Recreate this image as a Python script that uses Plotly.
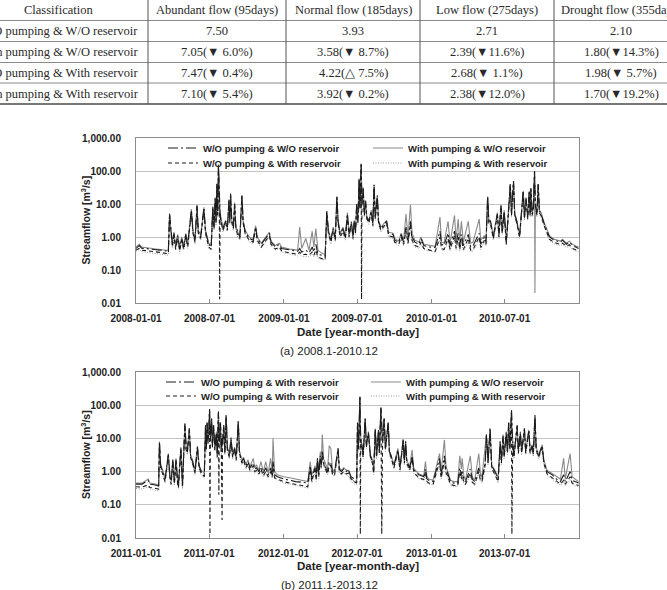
import pandas as pd
import plotly.graph_objects as go

W, H = 667, 590


def px(x):
    return x / W


def py(y):
    return 1 - y / H


# ---------------- table data ----------------
table_header = ["Classification", "Abundant flow (95days)", "Normal flow (185days)",
                "Low flow (275days)", "Drought flow (355days)"]
table_rows = ["W/O pumping & W/O reservoir", "With pumping & W/O reservoir",
              "W/O pumping & With reservoir", "With pumping & With reservoir"]
abundant = ["7.50", "7.05(▼ 6.0%)", "7.47(▼ 0.4%)", "7.10(▼ 5.4%)"]
normal = ["3.93", "3.58(▼ 8.7%)", "4.22(△ 7.5%)", "3.92(▼ 0.2%)"]
low = ["2.71", "2.39(▼11.6%)", "2.68(▼ 1.1%)", "2.38(▼12.0%)"]
drought = ["2.10", "1.80(▼14.3%)", "1.98(▼ 5.7%)", "1.70(▼19.2%)"]

# ---------------- chart (a) 2008.1-2010.12 : days since 2008-01-01 ----------------
days_a = [0, 8, 14, 30, 45, 60, 80, 83, 86, 90,
          94, 98, 103, 108, 113, 118, 123, 128, 137, 141,
          146, 151, 154, 160, 168, 172, 180, 186, 190, 193,
          196, 198, 200, 202, 204, 206, 207, 208, 210, 215,
          222, 226, 230, 232, 234, 237, 241, 244, 247, 252,
          257, 262, 265, 270, 280, 290, 296, 300, 310, 330,
          334, 345, 355, 360, 380, 400, 405, 410, 420, 428,
          436, 440, 445, 450, 460, 468, 472, 476, 482, 488,
          493, 497, 500, 505, 512, 518, 523, 527, 533, 537,
          540, 543, 546, 549, 552, 554, 557, 558, 559, 562,
          565, 568, 571, 576, 582, 586, 589, 592, 597, 600,
          606, 620, 625, 636, 640, 650, 656, 662, 668, 673,
          679, 683, 690, 700, 705, 712, 725, 740, 752, 756,
          762, 772, 777, 788, 792, 797, 801, 805, 810, 822,
          828, 834, 849, 853, 862, 866, 870, 873, 877, 884,
          894, 898, 903, 906, 911, 916, 920, 926, 929, 934,
          937, 942, 949, 953, 958, 961, 965, 969, 973, 975,
          977, 980, 983, 986, 987, 988, 992, 995, 998, 1002,
          1010, 1018, 1023, 1035, 1050, 1055, 1065, 1072, 1080, 1090,
          1095]
# W/O pumping & W/O reservoir
a_wo_wo = [.45, .55, .46, .43, .42, .40, .37, 5.0, 1.5, .6,
           1.3, .5, 1.1, .45, .9, .5, 1.2, .6, 6.5, 1.5,
           .8, 9, 1.5, 1.0, 7.5, 1.5, .6, .5, 8, 2,
           15, 3, 40, 5, 150, 20, 8, 5, 3.5, 1.8,
           3, 1.8, 13, 3, 20, 3, 2, 10, 2, 1.3,
           1.0, 18, 3, 1.5, .9, .8, 2.0, .9, .6, 1.3,
           .7, .5, .6, .45, .4, .37, .45, .35, .4, .33,
           .5, .35, .6, .3, .28, .27, 6, 1.5, .8, 1.8,
           .9, 17, 3, 1.2, 1.8, 1.0, 5, 1.2, 2.8, 1.0,
           3, 1.5, 10, 3, 60, 8, 170, 20, 10, 30,
           5, 12, 4, 3, 6, 2.5, 38, 4, 18, 3,
           1.8, 3, 1.3, 1.2, .8, .7, 1.2, .7, 2, .8,
           3, 1.0, .7, .6, .9, .55, .5, .48, 1.5, .6,
           .55, 1.3, .55, 1.5, .6, 1.3, .55, 1.2, .55, 1.2,
           .5, .55, 1.3, .6, 1.0, .7, 17, 3, 3, 1.0,
           5, 1.2, 9, 1.5, 6, .7, 3, 40, 5, 50,
           5, 3, 1.1, 6, 25, 4, 15, 4, 25, 5,
           30, 5, 8, 100, 30, 10, 5, 40, 6, 5,
           2.5, 1.5, 1.0, .8, .7, .8, .6, .7, .55, .48,
           .45]
# W/O pumping & With reservoir
a_wo_with = [.40, .45, .40, .37, .36, .34, .31, 4.5, 1.3, .5,
             1.1, .42, .9, .38, .8, .42, 1.0, .5, 6.0, 1.3,
             .7, 8.5, 1.3, .9, 7, 1.3, .5, .42, 7, 1.8,
             14, 2.5, 35, 4.5, 140, 18, .013, 5, 3, 1.6,
             2.7, 1.6, 12, 2.7, 18, 2.7, 1.8, 9, 1.8, 1.1,
             .9, 17, 2.7, 1.3, .8, .7, 1.8, .8, .5, 1.1,
             .6, .43, .5, .38, .33, .3, .35, .29, .3, .28,
             .35, .28, .4, .25, .22, .21, 5.5, 1.3, .7, 1.6,
             .8, 16, 2.7, 1.0, 1.5, .9, 4.5, 1.0, 2.5, .9,
             2.7, 1.3, 9, 2.7, 55, 7, 160, .013, 10, 28,
             4.5, 11, 3.6, 2.7, 5.5, 2.2, 35, 3.6, 17, 2.7,
             1.6, 2.7, 1.1, 1.0, .7, .6, 1.0, .6, 1.6, .65,
             2.5, .8, .55, .5, .7, .45, .4, .36, 1.0, .45,
             .42, .9, .42, 1.1, .45, 1.0, .42, .9, .42, .9,
             .4, .42, 1.0, .48, .8, .6, 16, 2.7, 2.6, .9,
             4.5, 1.0, 8.5, 1.3, 5.5, .6, 2.7, 38, 4.5, 45,
             4.5, 2.7, 1.0, 5.5, 23, 3.6, 14, 3.6, 23, 4.5,
             28, 4.5, 7, 95, 28, 9, 4.5, 38, 5.5, 4.5,
             2.2, 1.3, .85, .68, .6, .65, .52, .58, .45, .4,
             .38]
# With pumping & W/O reservoir
a_with_wo = [.50, .60, .50, .46, .44, .42, .39, 5.2, 1.6, .7,
             1.4, .55, 1.2, .5, 1.0, .55, 1.3, .65, 7.0, 1.6,
             .9, 9.5, 1.6, 1.1, 8, 1.6, .65, .55, 8.5, 2.2,
             16, 3.2, 42, 5.5, 160, 22, 8.5, 5.5, 3.8, 2,
             3.2, 2, 14, 3.2, 21, 3.2, 2.2, 11, 2.2, 1.4,
             1.1, 18, 3.2, 1.6, 1.0, .9, 2.2, 1.0, .65, 1.4,
             .75, .55, .65, .5, .43, .4, 2.0, .45, .9, .4,
             1.5, .5, 1.8, .4, .32, .3, 6, 1.6, .9, 2,
             1.0, 17, 3.2, 1.3, 2.0, 1.1, 5.5, 1.3, 3, 1.1,
             3.2, 1.6, 10, 3.2, 60, 8.5, 170, 20, 11, 32,
             5.5, 13, 4.2, 3.2, 6.5, 2.7, 38, 4.2, 18, 3.2,
             2, 3.2, 1.4, 1.3, .9, .75, 1.3, .8, 5, 1.0,
             9.5, 1.3, .8, .7, 1.0, .6, .55, .52, 4, .7,
             .65, 3, .65, 4.5, .8, 3.5, .7, 3, .7, 3,
             .65, .7, 3.5, .8, 1.1, .8, 17, 3.2, 3.2, 1.1,
             5.5, 1.3, 9.5, 1.6, 6.5, .75, 3.2, 40, 5.5, 50,
             5.5, 3.2, 1.2, 6.5, 25, 4.2, 16, 4.2, 25, 5.5,
             30, 5.5, 8.5, 100, .02, 10, 5.5, 40, 6.5, 5.5,
             2.7, 1.6, 1.1, .85, .75, .85, .65, .75, .6, .52,
             .5]
# With pumping & With reservoir
a_with_with = [.37, .42, .36, .34, .32, .30, .28, 4.2, 1.2, .45,
               1.0, .4, .85, .35, .75, .4, .9, .45, 5.5, 1.2,
               .6, 8, 1.2, .8, 6.5, 1.2, .45, .4, 6.5, 1.6,
               13, 2.2, 30, 4, 120, 16, 7, 4.5, 2.8, 1.4,
               2.4, 1.5, 11, 2.5, 16, 2.5, 1.6, 8.5, 1.6, 1.0,
               .8, 15, 2.4, 1.2, .7, .65, 1.6, .7, .45, 1.0,
               .55, .4, .45, .35, .3, .27, .3, .26, .26, .25,
               .3, .25, .32, .23, .21, .2, 5, 1.2, .6, 1.4,
               .7, 14, 2.4, .9, 1.3, .8, 4, .9, 2.2, .8,
               2.4, 1.2, 8, 2.4, 50, 6.5, 150, 18, 9, 25,
               4, 10, 3.2, 2.4, 5, 2, 32, 3.2, 15, 2.4,
               1.4, 2.4, 1.0, .9, .65, .55, .9, .55, 1.4, .6,
               2, .7, .5, .45, .6, .42, .38, .35, .8, .4,
               .38, .7, .38, .9, .4, .8, .38, .7, .38, .7,
               .36, .38, .8, .42, .7, .55, 14, 2.4, 2.3, .8,
               4, .9, 8, 1.2, 5, .55, 2.4, 35, 4, 40,
               4, 2.4, .9, 5, 20, 3.2, 12, 3.2, 20, 4,
               25, 4, 6.5, 85, 25, 8, 4, 35, 5, 4,
               2, 1.2, .8, .62, .55, .6, .48, .52, .42, .37,
               .35]

# ---------------- chart (b) 2011.1-2013.12 : days since 2011-01-01 ----------------
days_b = [0, 15, 30, 34, 45, 56, 58, 61, 66, 72,
          80, 84, 87, 91, 95, 99, 103, 105, 111, 115,
          121, 124, 127, 132, 135, 140, 146, 152, 156, 161,
          169, 172, 174, 176, 178, 180, 182, 183, 184, 187,
          189, 192, 195, 199, 201, 204, 205, 206, 209, 211,
          213, 214, 217, 220, 223, 226, 231, 235, 239, 244,
          248, 253, 256, 262, 266, 272, 277, 282, 290, 294,
          298, 304, 309, 315, 321, 327, 333, 337, 339, 343,
          350, 365, 380, 395, 410, 425, 431, 435, 437, 443,
          446, 449, 452, 456, 458, 461, 464, 467, 474, 478,
          482, 486, 491, 500, 503, 508, 514, 520, 525, 532,
          540, 546, 548, 550, 552, 554, 555, 556, 559, 562,
          567, 570, 575, 580, 585, 588, 592, 595, 600, 602,
          606, 608, 610, 614, 617, 624, 627, 631, 638, 648,
          653, 661, 664, 667, 670, 677, 683, 687, 691, 700,
          712, 716, 720, 724, 735, 751, 755, 763, 767, 770,
          778, 786, 796, 801, 805, 807, 811, 815, 827, 832,
          838, 848, 852, 856, 864, 867, 871, 876, 880, 888,
          896, 901, 904, 908, 911, 916, 919, 922, 925, 929,
          930, 932, 935, 943, 946, 951, 954, 957, 961, 964,
          968, 972, 975, 980, 983, 987, 990, 996, 1005, 1009,
          1017, 1030, 1040, 1050, 1058, 1062, 1074, 1079, 1086, 1095]
b_s1 = [.42, .42, .55, .42, .4, .37, 8, 1.5, 1.0, .6,
        3.3, .7, .5, 2.2, .5, 2.3, .5, .4, 5, .4,
        28, 5, 4, 20, 3, 2, 1.0, 5.5, 1.5, 1.0,
        .8, 25, 5, 30, 8, 15, 75, 20, 10, 40,
        6, 25, 5, 15, 3, 65, 10, 8, 30, 4,
        10, 6, 25, 4, 50, 5, 3, 10, 3, 5,
        2.5, 33, 4, 2, 2.5, 1.5, 2, 1.3, 1.8, 1.2,
        1.3, 1.0, 1.4, .9, 1.3, .8, 1.3, .8, 2, .8,
        .7, .6, .55, .5, .48, .45, 1.5, .6, .8, 1.3,
        .7, 2.5, .8, 3, 1.5, 4, 2, 1.5, 1.0, 2,
        1.8, 1.0, .9, 5, 1.2, 1.0, 1.2, 1.0, 1.2, .7,
        .6, .5, 30, 5, 20, 180, 25, 10, 6, 3,
        40, 6, 15, 3, 2, 1.0, 20, 3, 18, 4,
        85, 20, 8, 40, 5, 30, 4, 3, 1.5, 4.5,
        1.3, 9, 2, 8, 2, 1.3, 3, 1.2, 1.0, .8,
        .7, 1.2, .6, .55, .5, 2.5, .8, 3, 1.2, 1.0,
        .5, .45, .45, 1.3, .8, 1.0, .6, .5, 1.2, .6,
        .5, 1.3, .7, .6, 2, 13, 2, 20, 1.5, 1.0,
        .6, 8, 2, 12, 3, 15, 4, 30, 5, 70,
        15, 8, 3, 25, 4, 15, 4, 8, 20, 4,
        8, 18, 4, 6, 3.5, 50, 5, 3, 6, 2,
        1.0, .8, .6, .5, .8, .5, 1.0, .55, .5, .45]
b_s2 = [.35, .34, .4, .33, .32, .3, 7, 1.3, .85, .5,
        3, .6, .42, 2, .42, 2.1, .42, .33, 4.5, .33,
        26, 4.5, 3.6, 18, 2.7, 1.8, .9, 5, 1.3, .9,
        .7, 22, 4.5, 28, 7, 14, 70, .013, 9, 38,
        5.5, 23, 4.5, 14, 2.7, 60, .2, 7, 28, 3.6,
        .035, 5.5, 23, 3.6, 45, 4.5, 2.7, 9, 2.7, 4.5,
        2.2, 30, 3.6, 1.8, 2.2, 1.3, 1.7, 1.1, 1.5, 1.0,
        1.1, .85, 1.2, .75, 1.0, .7, 1.0, .7, 1.5, .65,
        .6, .5, .45, .42, .38, .35, 1.2, .5, .65, 1.1,
        .55, 2.2, .7, 2.7, 1.3, 3, 1.8, 1.3, .85, 1.6,
        1.5, .85, .75, 4.5, 1.0, .85, 1.0, .85, .9, .6,
        .5, .45, 28, 4.5, 18, 170, .013, 9, 5.5, 2.7,
        38, 5.5, 14, 2.7, 1.8, .9, 18, 2.7, 16, 3.6,
        80, .013, 7, 38, 4.5, 28, 3.6, 2.7, 1.3, 4,
        1.1, 8, 1.8, 7, 1.8, 1.1, 2.5, 1.0, .85, .65,
        .58, 1.0, .5, .45, .42, 2, .65, 2.2, .9, .8,
        .42, .38, .38, 1.0, .6, .8, .48, .42, .9, .48,
        .42, 1.0, .55, .5, 1.6, 12, 1.8, 18, 1.3, .85,
        .5, 7, 1.8, 11, 2.7, 14, 3.6, 28, 4.5, 65,
        .013, 7, 2.7, 23, 3.6, 14, 3.6, 7, 18, 3.6,
        7, 16, 3.6, 5.5, 3.2, 45, 4.5, 2.7, 5.5, 1.8,
        .85, .65, .5, .42, .55, .42, .7, .45, .42, .38]
b_s3 = [.45, .45, .6, .45, .43, .4, 8, 1.6, 1.1, .65,
        3.5, .75, .55, 2.4, .55, 2.5, .55, .44, 5.5, .45,
        28, 5.5, 4.2, 20, 3.2, 2.2, 1.1, 6, 1.6, 1.1,
        .9, 25, 5.5, 30, 8.5, 16, 75, 20, 11, 40,
        6.5, 25, 5.5, 16, 3.2, 65, 10, 8.5, 30, 4.2,
        10, 6.5, 25, 4.2, 50, 5.5, 3.2, 11, 3.2, 5.5,
        2.7, 33, 4.2, 2.2, 2.7, 1.6, 2.3, 1.4, 2.5, 1.3,
        1.6, 1.1, 2, 1.0, 2, .9, 2.5, .9, 10, 1.0,
        .8, .7, .65, .6, .55, .5, 2, .8, .9, 1.5,
        .8, 2.5, .9, 4, 1.6, 13, 2.5, 2, 1.2, 6,
        5, 1.2, 1.0, 5, 1.3, 1.1, 1.3, 1.1, 1.1, .65,
        .5, .45, 30, 5.5, 20, 180, 25, 11, 6.5, 3.2,
        40, 6.5, 16, 3.2, 2.2, 1.1, 20, 3.2, 18, 4.2,
        85, 20, 8.5, 40, 5.5, 30, 4.2, 3.2, 1.6, 5,
        1.4, 9.5, 2.2, 8.5, 2.2, 1.4, 4.5, 1.3, 1.1, .85,
        .75, 2, .7, .6, .55, 3.5, 1.0, 9, 1.5, 1.1,
        .55, .5, .5, 3, 1.2, 2.5, .75, .55, 3, .7,
        .55, 3.5, .9, .7, 4.5, 13, 2.2, 20, 1.6, 1.1,
        .65, 8.5, 2.2, 13, 3.2, 16, 4.2, 30, 5.5, 70,
        15, 8.5, 3.2, 25, 4.2, 16, 4.2, 8.5, 20, 4.2,
        8.5, 18, 4.2, 6.5, 3.8, 50, 5.5, 3.2, 6.5, 2.2,
        1.1, .85, .7, .6, 2.5, .6, 3.5, .7, .6, .5]
b_s4 = [.31, .3, .34, .3, .28, .26, 6.5, 1.2, .8, .45,
        2.7, .55, .38, 1.8, .38, 1.9, .38, .3, 4, .3,
        24, 4, 3.2, 16, 2.4, 1.6, .8, 4.5, 1.2, .8,
        .65, 20, 4, 25, 6.5, 12, 60, 18, 8.5, 33,
        5, 20, 4, 12, 2.4, 55, 8.5, 6.5, 25, 3.2,
        8.5, 5, 20, 3.2, 40, 4, 2.4, 8.5, 2.4, 4,
        2, 28, 3.2, 1.6, 2, 1.2, 1.5, 1.0, 1.3, .9,
        1.0, .8, 1.0, .7, .9, .65, .9, .62, 1.2, .6,
        .55, .45, .42, .38, .35, .32, 1.0, .45, .55, .9,
        .5, 2, .6, 2.4, 1.2, 2.5, 1.6, 1.2, .8, 1.3,
        1.2, .8, .7, 4, .9, .8, .9, .8, .75, .5,
        .42, .4, 25, 4, 16, 150, 20, 8.5, 5, 2.4,
        33, 5, 12, 2.4, 1.6, .8, 16, 2.4, 15, 3.2,
        70, 18, 6.5, 33, 4, 25, 3.2, 2.4, 1.2, 3.5,
        1.0, 7, 1.6, 6.5, 1.6, 1.0, 2.2, .9, .8, .6,
        .55, .9, .45, .42, .4, 1.8, .6, 1.8, .8, .7,
        .38, .35, .35, .9, .55, .7, .45, .38, .8, .45,
        .38, .9, .5, .45, 1.4, 10, 1.6, 16, 1.2, .8,
        .45, 6.5, 1.6, 10, 2.4, 12, 3.2, 25, 4, 60,
        12, 6.5, 2.4, 20, 3.2, 12, 3.2, 6.5, 16, 3.2,
        6.5, 14, 3.2, 5, 2.8, 40, 4, 2.4, 5, 1.6,
        .8, .6, .45, .38, .5, .38, .6, .42, .38, .35]

names_a = ["W/O pumping & W/O reservoir", "W/O pumping & With reservoir",
           "With pumping & W/O reservoir", "With pumping & With reservoir"]
names_b = ["W/O pumping & With reservoir", "W/O pumping & With reservoir",
           "With pumping & W/O reservoir", "With pumping & With reservoir"]

xticks_a = ["2008-01-01", "2008-07-01", "2009-01-01", "2009-07-01", "2010-01-01", "2010-07-01"]
xticks_b = ["2011-01-01", "2011-07-01", "2012-01-01", "2012-07-01", "2013-01-01", "2013-07-01"]
yticks = [0.01, 0.1, 1, 10, 100, 1000]
yticklabels = ["0.01", "0.10", "1.00", "10.00", "100.00", "1,000.00"]

captions = ["(a) 2008.1-2010.12", "(b) 2011.1-2013.12"]
x_title = "Date [year-month-day]"
y_title = "Streamflow [m<sup>3</sup>/s]"

# ---------------- styles ----------------
styles = [
    dict(color="#1c1c1c", width=1.1, dash="10px,3px,2px,3px"),   # W/O & W/O (dash-dot)
    dict(color="#1c1c1c", width=1.1, dash="4px,3px"),            # W/O & With (dashed)
    dict(color="#8a8a8a", width=1.1, dash="solid"),              # With & W/O (solid grey)
    dict(color="#9c9c9c", width=1.0, dash="1px,1.5px"),          # With & With (dotted)
]
legend_of = [("legend", "legend3"), ("legend2", "legend4"), ("legend", "legend3"), ("legend2", "legend4")]
ranks = [1, 1, 2, 2]

fig = go.Figure()

x_a = pd.Timestamp("2008-01-01") + pd.to_timedelta(days_a, unit="D")
x_b = pd.Timestamp("2011-01-01") + pd.to_timedelta(days_b, unit="D")
series_a = [a_wo_wo, a_wo_with, a_with_wo, a_with_with]
series_b = [b_s1, b_s2, b_s3, b_s4]

draw_order = [3, 2, 1, 0]
for i in draw_order:
    fig.add_trace(go.Scatter(x=x_a, y=series_a[i], mode="lines", name=names_a[i],
                             line=styles[i], xaxis="x", yaxis="y",
                             legend=legend_of[i][0], legendrank=ranks[i]))
for i in draw_order:
    fig.add_trace(go.Scatter(x=x_b, y=series_b[i], mode="lines", name=names_b[i],
                             line=styles[i], xaxis="x2", yaxis="y2",
                             legend=legend_of[i][1], legendrank=ranks[i]))

tickfont = dict(family="Liberation Sans", size=10, color="#222222", weight="bold")
frame = "#8c8c8c"


def xaxis_cfg(domain, ticks, rng, anchor):
    return dict(domain=domain, type="date", range=rng, tickvals=ticks, ticktext=ticks,
                showgrid=False, showline=True, linecolor=frame, linewidth=1, mirror=True,
                ticks="inside", ticklen=4, tickcolor=frame, tickfont=tickfont,
                ticklabelstandoff=6, zeroline=False, anchor=anchor, fixedrange=True)


def yaxis_cfg(domain, anchor):
    return dict(domain=domain, type="log", range=[-2, 3], tickvals=yticks, ticktext=yticklabels,
                showgrid=True, gridcolor="#c4c4c4", gridwidth=1, showline=True, linecolor=frame,
                linewidth=1, mirror=True, ticks="", tickfont=tickfont, ticklabelstandoff=12,
                zeroline=False, anchor=anchor, fixedrange=True)


A_top, A_bot = 138, 303
B_top, B_bot = 372, 538
PL, PR = 136, 579

leg_font = dict(family="Liberation Sans", size=9.5, color="#222222", weight="bold")


def leg(xpx, ypx):
    return dict(orientation="h", x=px(xpx), y=py(ypx), xanchor="left", yanchor="middle",
                bgcolor="rgba(0,0,0,0)", borderwidth=0, font=leg_font, entrywidth=160,
                entrywidthmode="pixels", itemwidth=30, tracegroupgap=0)


annotations = []
shapes = []

# table geometry
col_edges = [-32, 148, 286, 420, 554, 688]
row_centers = [10, 31.5, 52.5, 73, 93.5]
serif = dict(family="Liberation Serif", size=12.5, color="#2a2a2a")
columns = [[table_header[0]] + table_rows,
           [table_header[1]] + abundant,
           [table_header[2]] + normal,
           [table_header[3]] + low,
           [table_header[4]] + drought]
for c, col in enumerate(columns):
    cx = (col_edges[c] + col_edges[c + 1]) / 2
    for r, txt in enumerate(col):
        annotations.append(dict(xref="paper", yref="paper", x=px(cx), y=py(row_centers[r]),
                                text=txt, showarrow=False, xanchor="center", yanchor="middle",
                                font=serif))
for yl in [20.5, 41.5, 62.5, 83]:
    shapes.append(dict(type="line", xref="paper", yref="paper", x0=px(-5), x1=px(700),
                       y0=py(yl), y1=py(yl), line=dict(color="#8a8a8a", width=1)))
shapes.append(dict(type="line", xref="paper", yref="paper", x0=px(-5), x1=px(700),
                   y0=py(104), y1=py(104), line=dict(color="#777777", width=2)))
for xe in col_edges[1:-1]:
    shapes.append(dict(type="line", xref="paper", yref="paper", x0=px(xe), x1=px(xe),
                       y0=py(0), y1=py(104), line=dict(color="#555555", width=1)))

# axis titles and captions
title_font = dict(family="Liberation Sans", size=11.5, color="#222222", weight="bold")
ytitle_font = dict(family="Liberation Sans", size=10.5, color="#222222", weight="bold")
cap_font = dict(family="Liberation Sans", size=11.5, color="#222222")
for top, bot, xt_y, cap_y in [(A_top, A_bot, 331.5, 351), (B_top, B_bot, 566, 585)]:
    annotations.append(dict(xref="paper", yref="paper", x=px((PL + PR) / 2), y=py(xt_y),
                            text=x_title, showarrow=False, xanchor="center", yanchor="middle",
                            font=title_font))
    annotations.append(dict(xref="paper", yref="paper", x=px(85), y=py((top + bot) / 2),
                            text=y_title, showarrow=False, xanchor="center", yanchor="middle",
                            textangle=-90, font=ytitle_font))
for cap, cy in zip(captions, [351, 585]):
    annotations.append(dict(xref="paper", yref="paper", x=px(329), y=py(cy), text=cap,
                            showarrow=False, xanchor="center", yanchor="middle", font=cap_font))

fig.update_layout(
    width=W, height=H, margin=dict(l=0, r=0, t=0, b=0, autoexpand=False),
    paper_bgcolor="white", plot_bgcolor="white",
    xaxis=xaxis_cfg([px(PL), px(PR)], xticks_a, ["2008-01-01", "2011-01-01"], "y"),
    yaxis=yaxis_cfg([py(A_bot), py(A_top)], "x"),
    xaxis2=xaxis_cfg([px(PL), px(PR)], xticks_b, ["2011-01-01", "2014-01-01"], "y2"),
    yaxis2=yaxis_cfg([py(B_bot), py(B_top)], "x2"),
    showlegend=True,
    legend=leg(163, 148), legend2=leg(163, 163),
    legend3=leg(161, 382), legend4=leg(161, 396),
    annotations=annotations, shapes=shapes,
)

fig.write_html("out.html")
